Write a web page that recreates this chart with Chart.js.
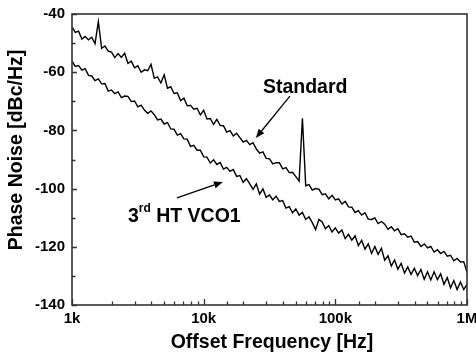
<!DOCTYPE html>
<html>
<head>
<meta charset="utf-8">
<script src="https://cdn.jsdelivr.net/npm/chart.js@4/dist/chart.umd.min.js"></script>
<style>
  html, body { margin: 0; padding: 0; background: #fff; }
  canvas { display: block; }
</style>
</head>
<body>
<canvas id="c" width="476" height="355"></canvas>
<script>
// ---- data ----
const frequencyHz = [
  1000,1059,1122,1189,1259,1334,1413,1496,1585,1679,1778,1884,1995,2113,2239,2371,2512,2661,2818,2985,
  3162,3350,3548,3758,3981,4217,4467,4732,5012,5309,5623,5957,6310,6683,7079,7499,7943,8414,8913,9441,
  10000,10590,11220,11890,12590,13340,14130,14960,15850,16790,17780,18840,19950,21130,22390,23710,25120,26610,28180,29850,
  31620,33500,35480,37580,39810,42170,44670,47320,50120,53090,56230,59570,63100,66830,70790,74990,79430,84140,89130,94410,
  100000,105900,112200,118900,125900,133400,141300,149600,158500,167900,177800,188400,199500,211300,223900,237100,251200,266100,281800,298500,
  316200,335000,354800,375800,398100,421700,446700,473200,501200,530900,562300,595700,631000,668300,707900,749900,794300,841400,891300,944100,
  1000000
];

const standardDb = [
  -44.4,-46.3,-45.9,-48.6,-47.7,-48.9,-48.0,-50.2,-42.6,-51.8,
  -51.0,-52.8,-53.1,-55.0,-53.6,-54.9,-53.5,-57.0,-56.2,-58.5,
  -57.8,-60.0,-59.2,-59.5,-57.3,-62.1,-61.6,-63.7,-60.9,-65.5,
  -65.0,-67.3,-67.1,-69.8,-68.9,-71.5,-71.4,-72.7,-72.4,-74.7,
  -73.1,-76.1,-75.9,-77.9,-76.2,-78.3,-78.4,-80.6,-80.1,-81.9,
  -81.0,-82.5,-84.0,-83.4,-84.9,-84.2,-86.4,-87.8,-87.4,-89.6,
  -89.8,-91.5,-91.1,-91.1,-93.2,-92.8,-94.5,-94.4,-95.9,-97.4,
  -75.8,-99.0,-98.6,-100.5,-100.0,-100.2,-102.1,-101.8,-103.5,-102.3,
  -103.9,-103.5,-105.3,-104.4,-106.3,-106.4,-108.2,-107.6,-109.1,-108.3,
  -110.5,-110.6,-110.1,-112.0,-111.3,-112.2,-114.0,-113.1,-114.5,-113.8,
  -115.8,-115.5,-116.7,-116.3,-118.4,-118.2,-119.9,-119.0,-120.4,-119.9,
  -121.8,-121.0,-122.3,-121.6,-123.2,-122.9,-124.8,-124.0,-125.2,-125.1,
  -128.8
];

const htVco1Db = [
  -56.2,-58.0,-57.7,-59.3,-58.8,-61.1,-61.3,-62.9,-62.3,-64.0,
  -63.9,-66.5,-66.1,-67.4,-66.8,-68.7,-68.2,-68.3,-70.1,-69.9,
  -71.9,-71.3,-73.0,-74.1,-73.3,-74.6,-76.4,-76.1,-77.8,-77.3,
  -79.5,-79.6,-81.6,-81.1,-82.9,-83.0,-85.5,-85.1,-86.8,-86.8,
  -89.1,-89.2,-91.2,-90.1,-91.7,-91.0,-93.3,-92.7,-94.1,-93.4,
  -95.8,-95.5,-97.8,-96.6,-98.4,-100.3,-98.4,-101.9,-100.1,-103.0,
  -102.2,-103.9,-102.6,-104.4,-104.1,-106.7,-106.2,-108.3,-107.0,-109.1,
  -108.2,-110.6,-109.7,-111.7,-114.1,-110.6,-111.5,-113.8,-112.7,-114.9,
  -113.5,-115.3,-114.2,-117.2,-115.7,-117.7,-116.2,-119.6,-117.8,-120.8,
  -119.0,-122.3,-119.9,-122.6,-120.5,-124.6,-123.1,-126.6,-124.5,-127.7,
  -125.7,-129.0,-126.9,-129.5,-127.4,-129.9,-127.8,-131.2,-128.6,-131.4,
  -128.6,-131.3,-129.3,-132.9,-130.6,-134.1,-131.6,-134.7,-132.1,-134.7,
  -132.9
];

const seriesNames = ['Standard', '3rd HT VCO1'];
const xTickValues = [1000, 10000, 100000, 1000000];
const xTickLabels = ['1k', '10k', '100k', '1M'];
const yTickValues = [-140, -120, -100, -80, -60, -40];
const xTitle = 'Offset Frequency [Hz]';
const yTitle = 'Phase Noise [dBc/Hz]';

// annotation anchors in data coordinates
const annotations = {
  standardText: { x: 28200, y: -67.1 },
  standardArrow: { from: [45200, -68.2], to: [24900, -82.6] },
  htText: { x: 2660, y: -111.5 },
  htArrow: { from: [6270, -103.2], to: [14000, -97.7] }
};

const FONT = '"Liberation Sans", Arial, Helvetica, sans-serif';

function isMajorX(v) {
  return xTickValues.findIndex(t => Math.abs(Math.log10(t / v)) < 1e-6);
}

function arrow(ctx, x1, y1, x2, y2) {
  const ang = Math.atan2(y2 - y1, x2 - x1);
  const hl = 9, hw = 3.6;
  const bx = x2 - hl * Math.cos(ang), by = y2 - hl * Math.sin(ang);
  ctx.beginPath();
  ctx.moveTo(x1, y1);
  ctx.lineTo(bx, by);
  ctx.lineWidth = 1.3;
  ctx.stroke();
  ctx.beginPath();
  ctx.moveTo(x2, y2);
  ctx.lineTo(bx + hw * Math.sin(ang), by - hw * Math.cos(ang));
  ctx.lineTo(bx - hw * Math.sin(ang), by + hw * Math.cos(ang));
  ctx.closePath();
  ctx.fill();
}

const decor = {
  id: 'decor',
  afterDraw(chart) {
    const { ctx, chartArea: a, scales: { x, y } } = chart;
    ctx.save();
    // frame
    ctx.strokeStyle = '#333';
    ctx.lineWidth = 1.6;
    ctx.strokeRect(a.left, a.top, a.right - a.left, a.bottom - a.top);
    // inward ticks
    ctx.beginPath();
    ctx.lineWidth = 1.3;
    y.ticks.forEach(t => {
      const py = Math.round(y.getPixelForValue(t.value)) + 0.5;
      const len = yTickValues.includes(t.value) ? 5 : 3.5;
      ctx.moveTo(a.left, py); ctx.lineTo(a.left + len, py);
    });
    x.ticks.forEach(t => {
      const px = Math.round(x.getPixelForValue(t.value)) + 0.5;
      const len = isMajorX(t.value) >= 0 ? 6 : 3.5;
      ctx.moveTo(px, a.bottom); ctx.lineTo(px, a.bottom - len);
    });
    ctx.stroke();

    // axis titles
    ctx.fillStyle = '#000';
    ctx.font = 'bold 19.5px ' + FONT;
    ctx.textAlign = 'center';
    ctx.textBaseline = 'middle';
    ctx.fillText(xTitle, (a.left + a.right) / 2 + 2.5, 343);
    ctx.save();
    ctx.translate(17, (a.top + a.bottom) / 2 - 9.5);
    ctx.rotate(-Math.PI / 2);
    ctx.fillText(yTitle, 0, 0);
    ctx.restore();

    // annotations
    ctx.textAlign = 'left';
    ctx.textBaseline = 'alphabetic';
    ctx.font = 'bold 19.5px ' + FONT;
    const st = annotations.standardText;
    ctx.fillText(seriesNames[0], x.getPixelForValue(st.x), y.getPixelForValue(st.y));
    ctx.strokeStyle = '#000';
    ctx.fillStyle = '#000';
    const sa = annotations.standardArrow;
    arrow(ctx, x.getPixelForValue(sa.from[0]), y.getPixelForValue(sa.from[1]),
               x.getPixelForValue(sa.to[0]), y.getPixelForValue(sa.to[1]));

    const ht = annotations.htText;
    let px = x.getPixelForValue(ht.x), py = y.getPixelForValue(ht.y);
    const parts = seriesNames[1].match(/^(\d)(rd)(.*)$/);
    ctx.font = 'bold 19.5px ' + FONT;
    ctx.fillText(parts[1], px, py);
    px += ctx.measureText(parts[1]).width;
    ctx.font = 'bold 12px ' + FONT;
    ctx.fillText(parts[2], px, py - 10);
    px += ctx.measureText(parts[2]).width;
    ctx.font = 'bold 19.5px ' + FONT;
    ctx.fillText(parts[3], px, py);
    const ha = annotations.htArrow;
    arrow(ctx, x.getPixelForValue(ha.from[0]), y.getPixelForValue(ha.from[1]),
               x.getPixelForValue(ha.to[0]), y.getPixelForValue(ha.to[1]));
    ctx.restore();
  }
};

const toPoints = arr => frequencyHz.map((f, i) => ({ x: f, y: arr[i] }));

new Chart(document.getElementById('c'), {
  type: 'line',
  data: {
    datasets: [
      { label: seriesNames[0], data: toPoints(standardDb), borderColor: '#000', borderWidth: 1.4, pointRadius: 0, tension: 0, fill: false },
      { label: seriesNames[1], data: toPoints(htVco1Db), borderColor: '#000', borderWidth: 1.4, pointRadius: 0, tension: 0, fill: false }
    ]
  },
  options: {
    responsive: false,
    animation: false,
    devicePixelRatio: 1,
    layout: { padding: { top: 14, right: 9, left: 0, bottom: 0 } },
    plugins: { legend: { display: false }, tooltip: { enabled: false } },
    scales: {
      x: {
        type: 'logarithmic',
        min: 1000, max: 1000000,
        grid: { display: false, drawTicks: false },
        border: { display: false },
        ticks: {
          autoSkip: false, maxRotation: 0, padding: 5, color: '#000',
          font: { family: FONT, size: 15, weight: 'bold' },
          callback: (v) => { const i = isMajorX(v); return i >= 0 ? xTickLabels[i] : ''; }
        },
        afterFit: (s) => { s.height = 50; s.paddingLeft = 0; s.paddingRight = 0; }
      },
      y: {
        type: 'linear',
        min: -140, max: -40,
        grid: { display: false, drawTicks: false },
        border: { display: false },
        ticks: {
          stepSize: 10, padding: 7, color: '#000',
          font: { family: FONT, size: 15, weight: 'bold' },
          callback: (v) => yTickValues.includes(v) ? String(v) : ''
        },
        afterFit: (s) => { s.width = 72; s.paddingTop = 0; s.paddingBottom = 0; }
      }
    }
  },
  plugins: [decor]
});
</script>
</body>
</html>
